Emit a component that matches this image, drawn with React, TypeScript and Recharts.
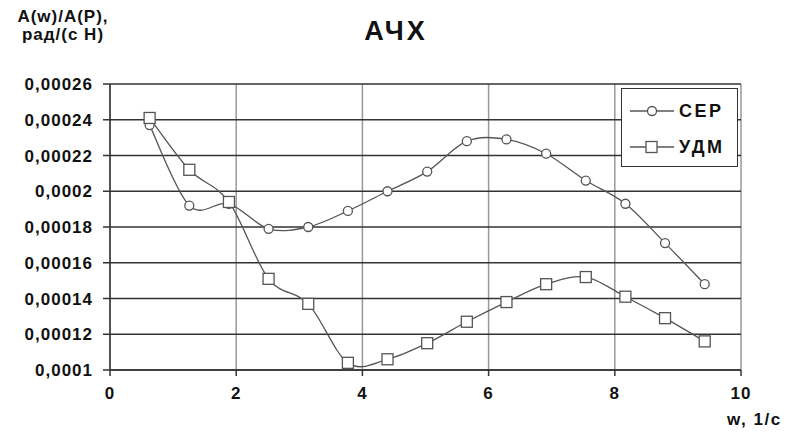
import { CartesianGrid, Line, LineChart, XAxis, YAxis } from "recharts";

// частоты w, 1/c
const wValues = [
  0.628, 1.257, 1.885, 2.513, 3.142, 3.77, 4.398, 5.027, 5.655, 6.283, 6.912,
  7.54, 8.168, 8.796, 9.425,
];
const serValues = [
  0.000237, 0.000192, 0.000193, 0.000179, 0.00018, 0.000189, 0.0002, 0.000211,
  0.000228, 0.000229, 0.000221, 0.000206, 0.000193, 0.000171, 0.000148,
];
const udmValues = [
  0.000241, 0.000212, 0.000194, 0.000151, 0.000137, 0.000104, 0.000106,
  0.000115, 0.000127, 0.000138, 0.000148, 0.000152, 0.000141, 0.000129,
  0.000116,
];
const xTicks = [0, 2, 4, 6, 8, 10];
const yTicks = [
  0.0001, 0.00012, 0.00014, 0.00016, 0.00018, 0.0002, 0.00022, 0.00024,
  0.00026,
];

const dados = wValues.map((w, i) => ({
  w,
  ser: serValues[i],
  udm: udmValues[i],
}));

const FONT = "'Liberation Sans', Arial, sans-serif";
const LINE = "#555";

// сглаживание как в Excel (Catmull-Rom)
const excelCurve = (context: any) => {
  let pts: number[][] = [];
  return {
    areaStart() {},
    areaEnd() {},
    lineStart() {
      pts = [];
    },
    point(x: number, y: number) {
      pts.push([+x, +y]);
    },
    lineEnd() {
      const n = pts.length;
      if (!n) return;
      context.moveTo(pts[0][0], pts[0][1]);
      const k = 1 / 6;
      for (let i = 0; i < n - 1; i++) {
        const p0 = pts[Math.max(i - 1, 0)];
        const p1 = pts[i];
        const p2 = pts[i + 1];
        const p3 = pts[Math.min(i + 2, n - 1)];
        context.bezierCurveTo(
          p1[0] + (p2[0] - p0[0]) * k,
          p1[1] + (p2[1] - p0[1]) * k,
          p2[0] - (p3[0] - p1[0]) * k,
          p2[1] - (p3[1] - p1[1]) * k,
          p2[0],
          p2[1]
        );
      }
    },
  };
};

const Quadrado = (props: any) => {
  const { cx, cy, index } = props;
  return (
    <rect
      key={`q-${index}`}
      x={cx - 5.5}
      y={cy - 5.5}
      width={11}
      height={11}
      fill="#fff"
      stroke={LINE}
      strokeWidth={1.3}
    />
  );
};

const tickStyle = {
  fontFamily: FONT,
  fontWeight: 700,
  fontSize: 17,
  fill: "#111",
  letterSpacing: 1,
};

const textoBase = {
  position: "absolute" as const,
  fontFamily: FONT,
  fontWeight: 700,
  color: "#111",
  whiteSpace: "nowrap" as const,
};

const Legenda = () => (
  <div
    style={{
      ...textoBase,
      left: 621,
      top: 88,
      width: 117,
      height: 79,
      boxSizing: "border-box",
      border: "1.5px solid #333",
      background: "#fff",
      fontSize: 18,
      letterSpacing: 2.5,
      paddingTop: 4,
    }}
  >
    {[
      { nome: "СЕР", quad: false },
      { nome: "УДМ", quad: true },
    ].map((it) => (
      <div
        key={it.nome}
        style={{ display: "flex", alignItems: "center", height: 36 }}
      >
        <svg width={52} height={14} style={{ marginLeft: 8 }}>
          <line x1={0} y1={7} x2={44} y2={7} stroke={LINE} strokeWidth={1.3} />
          {it.quad ? (
            <rect x={16} y={1.5} width={11} height={11} fill="#fff" stroke={LINE} strokeWidth={1.3} />
          ) : (
            <circle cx={22} cy={7} r={4.5} fill="#fff" stroke={LINE} strokeWidth={1.3} />
          )}
        </svg>
        <span style={{ marginLeft: -3 }}>{it.nome}</span>
      </div>
    ))}
  </div>
);

export default function App() {
  return (
    <div style={{ position: "absolute", left: 0, top: 0, width: 786, height: 434, background: "#fff" }}>
      <LineChart
        width={786}
        height={434}
        data={dados}
        margin={{ top: 84, right: 45, bottom: 34, left: 0 }}
      >
        <CartesianGrid horizontal={false} stroke="#999" strokeWidth={1.5} />
        <CartesianGrid vertical={false} stroke="#333" strokeWidth={1.5} />
        <XAxis
          dataKey="w"
          type="number"
          domain={[0, 10]}
          ticks={xTicks}
          height={30}
          tickSize={6}
          tickMargin={11}
          stroke="#333"
          strokeWidth={1.5}
          tick={tickStyle}
        />
        <YAxis
          type="number"
          domain={[0.0001, 0.00026]}
          ticks={yTicks}
          width={110}
          tickSize={7}
          tickMargin={10}
          stroke="#333"
          strokeWidth={1.5}
          tick={tickStyle}
          tickFormatter={(v: number) => String(v).replace(".", ",")}
        />
        <Line
          type={excelCurve as any}
          dataKey="ser"
          name="СЕР"
          stroke={LINE}
          strokeWidth={1.3}
          dot={{ r: 4.5, fill: "#fff", stroke: LINE, strokeWidth: 1.3 }}
          isAnimationActive={false}
        />
        <Line
          type={excelCurve as any}
          dataKey="udm"
          name="УДМ"
          stroke={LINE}
          strokeWidth={1.3}
          dot={Quadrado}
          isAnimationActive={false}
        />
      </LineChart>
      <Legenda />
      <div style={{ ...textoBase, left: 12, top: 8, width: 102, textAlign: "center", fontSize: 17, lineHeight: "18px", letterSpacing: 1 }}>
        A(w)/A(P),
        <br />
        рад/(с Н)
      </div>
      <div style={{ ...textoBase, left: 356, top: 16, width: 80, textAlign: "center", fontSize: 27, letterSpacing: 3 }}>
        АЧХ
      </div>
      <div style={{ ...textoBase, left: 727, top: 410, fontSize: 17, letterSpacing: 1.5 }}>
        w, 1/c
      </div>
    </div>
  );
}
